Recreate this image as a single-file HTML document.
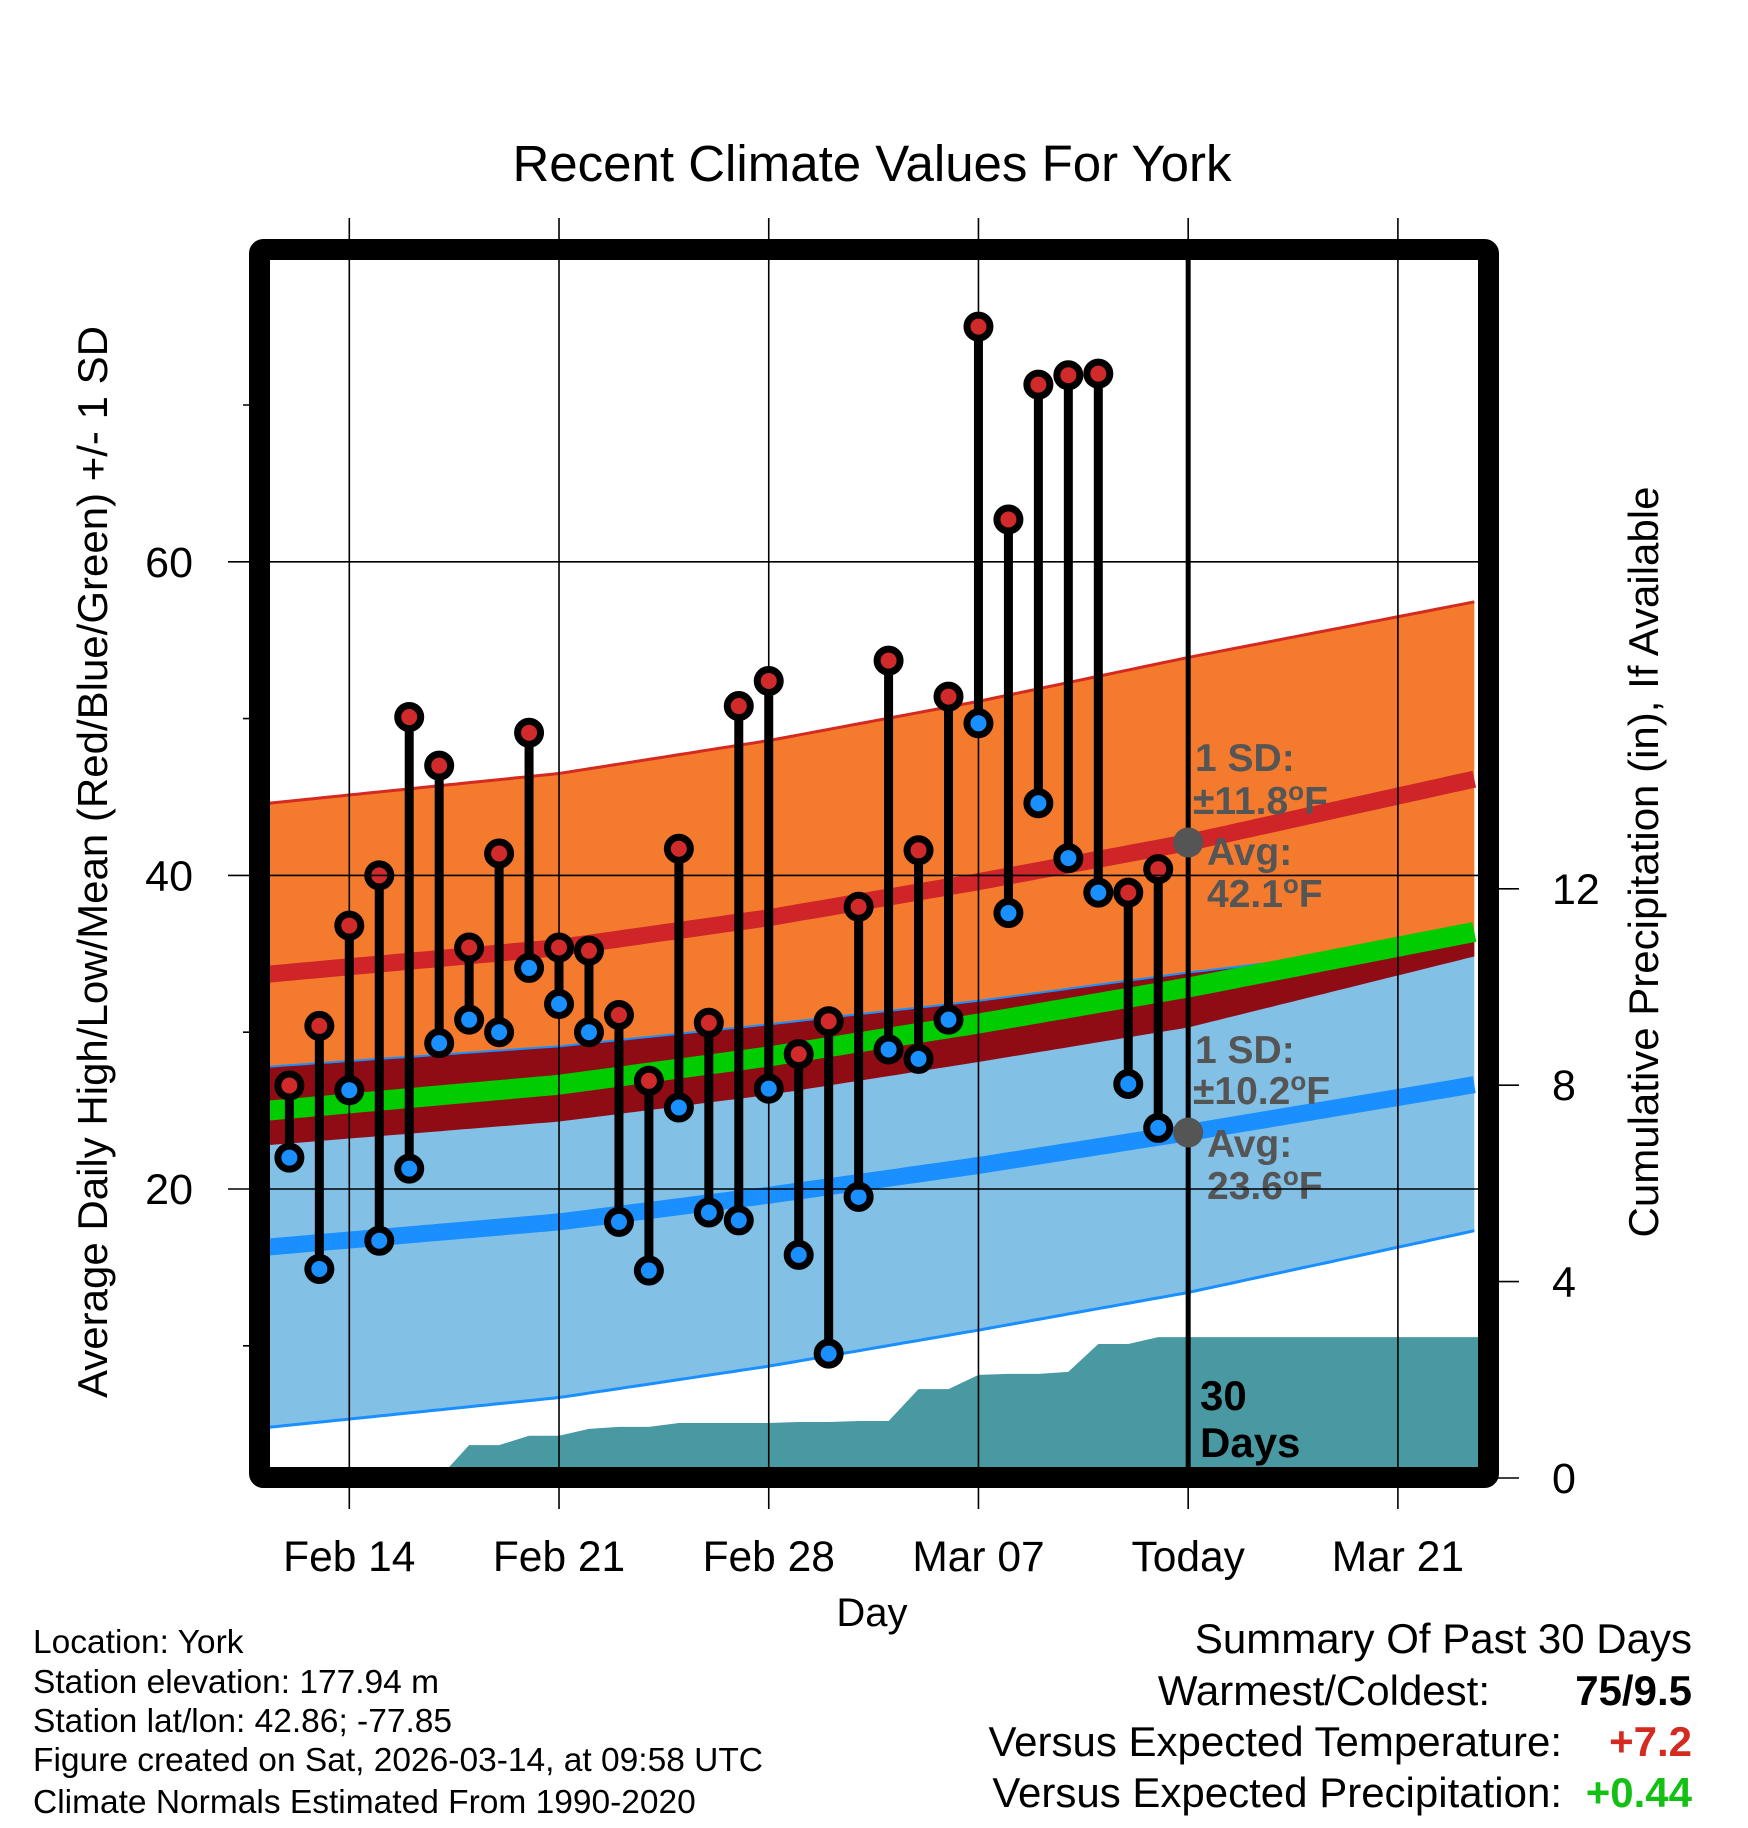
<!DOCTYPE html>
<html><head><meta charset="utf-8"><style>
html,body{margin:0;padding:0;background:#fff;}
svg{display:block;font-family:"Liberation Sans",sans-serif;}
</style></head><body>
<svg id="chart" width="1748" height="1828" viewBox="0 0 1748 1828" xmlns="http://www.w3.org/2000/svg">
<defs><clipPath id="plotclip"><rect x="270" y="260" width="1208" height="1207"/></clipPath></defs>
<text x="872" y="181" font-size="51" text-anchor="middle">Recent Climate Values For York</text>
<g id="plot" clip-path="url(#plotclip)"></g>
<g id="over"></g>
<rect x="259.5" y="249.5" width="1229" height="1228" fill="none" stroke="#000" stroke-width="21" rx="4"/>
<g id="axes"></g>
<text transform="translate(107,862) rotate(-90)" font-size="42" text-anchor="middle">Average Daily High/Low/Mean (Red/Blue/Green) +/- 1 SD</text>
<text transform="translate(1658,862) rotate(-90)" font-size="42" text-anchor="middle">Cumulative Precipitation (in), If Available</text>
<text x="872" y="1626" font-size="40" text-anchor="middle">Day</text>
<g font-size="33.5">
<text x="33" y="1653">Location: York</text>
<text x="33" y="1693">Station elevation: 177.94 m</text>
<text x="33" y="1732">Station lat/lon: 42.86; -77.85</text>
<text x="33" y="1771">Figure created on Sat, 2026-03-14, at 09:58 UTC</text>
<text x="33" y="1813">Climate Normals Estimated From 1990-2020</text>
</g>
<g font-size="42">
<text x="1692" y="1653" text-anchor="end">Summary Of Past 30 Days</text>
<text x="1490" y="1705" text-anchor="end">Warmest/Coldest:</text>
<text x="1692" y="1705" text-anchor="end" font-weight="bold">75/9.5</text>
<text x="1562" y="1756" text-anchor="end">Versus Expected Temperature:</text>
<text x="1692" y="1756" text-anchor="end" font-weight="bold" fill="#d42a20">+7.2</text>
<text x="1562" y="1807" text-anchor="end">Versus Expected Precipitation:</text>
<text x="1692" y="1807" text-anchor="end" font-weight="bold" fill="#14c014">+0.44</text>
</g>
</svg>
<script>
const highs = [26.6,30.4,36.8,40,50.1,47,35.4,41.4,49.1,35.4,35.2,31.1,26.9,41.7,30.6,50.8,52.4,28.6,30.7,38,53.7,41.6,51.4,75,62.7,71.3,71.9,72,38.9,40.4];
const lows = [22,14.9,26.3,16.7,21.3,29.3,30.8,30,34.1,31.8,30,17.9,14.8,25.2,18.5,18,26.4,15.8,9.5,19.5,28.9,28.3,30.8,49.7,37.6,44.6,41.1,38.9,26.7,23.9];
const precip = [0,0,0,0,0,0,0.67,0.67,0.86,0.86,1.0,1.04,1.04,1.12,1.12,1.12,1.12,1.14,1.14,1.16,1.16,1.81,1.81,2.1,2.12,2.12,2.16,2.73,2.73,2.87,2.87];
const normDays = [-2.7,7,14,21,28,37.7];
const avgHigh = [33.7,35.4,37.3,39.6,42.1,46.2];
const sdHigh = [10.9,11.1,11.3,11.5,11.8,11.3];
const avgLow = [16.3,17.9,19.6,21.5,23.6,26.7];
const sdLow = [11.5,11.2,10.9,10.5,10.2,9.3];
const xTickDays = [0,7,14,21,28,35];
const xTickLabels = ['Feb 14','Feb 21','Feb 28','Mar 07','Today','Mar 21'];
const yTicks = [20,40,60];
const yMinor = [10,30,50,70];
const y2Ticks = [0,4,8,12];
const firstDay = -2;
const todayDay = 28;

const NS='http://www.w3.org/2000/svg';
const X = d => 349.3 + 29.96*d;
const Y = v => 1189 - (v-20)*15.68;
const YP = p => 1478 - p*49.1;
function mk(tag, attrs, parent){const e=document.createElementNS(NS,tag);for(const k in attrs)e.setAttribute(k,attrs[k]);parent.appendChild(e);return e;}
function interp(arr,d){
  if(d<=normDays[0])return arr[0];
  for(let i=1;i<normDays.length;i++){if(d<=normDays[i]){const t=(d-normDays[i-1])/(normDays[i]-normDays[i-1]);return arr[i-1]+t*(arr[i]-arr[i-1]);}}
  return arr[arr.length-1];
}
const plot=document.getElementById('plot');
const over=document.getElementById('over');
const axes=document.getElementById('axes');
const samples=[];for(let d=normDays[0];d<=normDays[normDays.length-1]+0.001;d+=0.25)samples.push(d);
const fHi=d=>interp(avgHigh,d), fSh=d=>interp(sdHigh,d), fLo=d=>interp(avgLow,d), fSl=d=>interp(sdLow,d);
function band(top,bot){let s=samples.map(d=>X(d).toFixed(1)+','+Y(top(d)).toFixed(1));s=s.concat(samples.slice().reverse().map(d=>X(d).toFixed(1)+','+Y(bot(d)).toFixed(1)));return s.join(' ');}
function line(f){return samples.map(d=>X(d).toFixed(1)+','+Y(f(d)).toFixed(1)).join(' ');}

let e;
e=mk('polygon',{points:band(d=>fHi(d)+fSh(d),d=>fHi(d)-fSh(d)),fill:'#f47a2e'},plot);


e=mk('polygon',{points:band(d=>fLo(d)+fSl(d),d=>fLo(d)-fSl(d)),fill:'#82c0e6'},plot);


e=mk('polygon',{points:band(d=>Math.max(fLo(d)+fSl(d),fHi(d)-fSh(d)),d=>fHi(d)-fSh(d)),fill:'#8f0c14'},plot);


e=mk('polyline',{points:line(d=>fLo(d)+fSl(d)),fill:'none',stroke:'#1a8fff','stroke-width':2},plot);


e=mk('polyline',{points:line(d=>fHi(d)+fSh(d)),fill:'none',stroke:'#d42a20','stroke-width':3},plot);


e=mk('polyline',{points:line(d=>fLo(d)-fSl(d)),fill:'none',stroke:'#1a8fff','stroke-width':3},plot);


e=mk('polyline',{points:line(d=>(fHi(d)+fLo(d))/2),fill:'none',stroke:'#00cc00','stroke-width':20},plot);


e=mk('polyline',{points:line(fHi),fill:'none',stroke:'#cf2428','stroke-width':17},plot);


e=mk('polyline',{points:line(fLo),fill:'none',stroke:'#1a8fff','stroke-width':17},plot);



let pts=[];
precip.forEach((p,i)=>pts.push(X(firstDay+i).toFixed(1)+','+YP(p).toFixed(1)));
const last=precip[precip.length-1];
pts.push('1490,'+YP(last).toFixed(1));
pts.push('1490,1490');pts.push(X(firstDay).toFixed(1)+',1490');
e=mk('polygon',{points:pts.join(' '),fill:'#4899a2'},plot);



yTicks.forEach(v=>{
  e=mk('line',{x1:228,x2:1478,y1:Y(v),y2:Y(v),stroke:'#000','stroke-width':1.6},axes);
  
  
  e=mk('text',{x:193,y:Y(v)+15,'font-size':43,'text-anchor':'end'},axes);
  
  
  e.textContent=v;
});
yMinor.forEach(v=>{
  e=mk('line',{x1:243,x2:260,y1:Y(v),y2:Y(v),stroke:'#000','stroke-width':1.6},axes);
  
  
});
y2Ticks.forEach(p=>{
  e=mk('line',{x1:1490,x2:1519,y1:YP(p),y2:YP(p),stroke:'#000','stroke-width':1.6},axes);
  
  
  e=mk('text',{x:1552,y:YP(p)+15,'font-size':43},axes);
  
  
  e.textContent=p;
});
xTickDays.forEach((d,i)=>{
  e=mk('line',{x1:X(d),x2:X(d),y1:218,y2:1509,stroke:'#000','stroke-width':1.6},over);
  
  
  e=mk('text',{x:X(d),y:1571,'font-size':42.5,'text-anchor':'middle'},axes);
  
  
  e.textContent=xTickLabels[i];
});
e=mk('line',{x1:X(todayDay),x2:X(todayDay),y1:260,y2:1467,stroke:'#000','stroke-width':5},over);



highs.forEach((h,i)=>{
  const x=X(firstDay+i);
  e=mk('line',{x1:x,x2:x,y1:Y(h),y2:Y(lows[i]),stroke:'#000','stroke-width':9},over);
  
  
});
highs.forEach((h,i)=>{
  const x=X(firstDay+i);
  e=mk('circle',{cx:x,cy:Y(h),r:11.5,fill:'#d02a2a',stroke:'#000','stroke-width':7},over);
  
  
  e=mk('circle',{cx:x,cy:Y(lows[i]),r:11.5,fill:'#1a8fff',stroke:'#000','stroke-width':7},over);
  
  
});
e=mk('circle',{cx:X(todayDay),cy:Y(fHi(todayDay)),r:15,fill:'#555'},over);


e=mk('circle',{cx:X(todayDay),cy:Y(fLo(todayDay)),r:15,fill:'#555'},over);



function ann(txt,x,y,name,col,size){
  const t=mk('text',{x:x,y:y,'font-size':size||39,'font-weight':'bold',fill:col||'#555'},over);
  
  
  t.innerHTML=txt;return t;
}
ann('1 SD:',1195,771,'high-sd-label');
ann('±11.8<tspan dy="-14" font-size="26">o</tspan><tspan dy="14">F</tspan>',1193,814,'high-sd-value');
ann('Avg:',1207,865,'high-avg-label');
ann('42.1<tspan dy="-14" font-size="26">o</tspan><tspan dy="14">F</tspan>',1207,907,'high-avg-value');
ann('1 SD:',1195,1063,'low-sd-label');
ann('±10.2<tspan dy="-14" font-size="26">o</tspan><tspan dy="14">F</tspan>',1193,1104,'low-sd-value');
ann('Avg:',1207,1157,'low-avg-label');
ann('23.6<tspan dy="-14" font-size="26">o</tspan><tspan dy="14">F</tspan>',1207,1199,'low-avg-value');
ann('30',1200,1410,'days-count-label','#000',42);
ann('Days',1200,1457,'days-unit-label','#000',42);
</script>
</body></html>
